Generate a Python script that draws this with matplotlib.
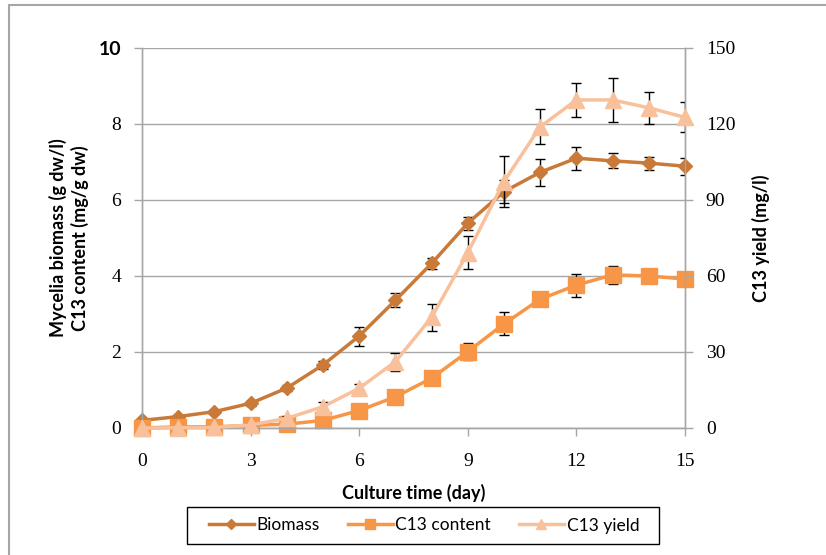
import matplotlib
matplotlib.use("Agg")
import matplotlib.pyplot as plt
from matplotlib.patches import Rectangle
from matplotlib.lines import Line2D

# culture time (day)
days = list(range(16))

# mycelia biomass (g dw/l), left axis
biomass = [0.2, 0.3, 0.43, 0.65, 1.05, 1.66, 2.42, 3.36, 4.33, 5.39, 6.22, 6.73, 7.1, 7.03, 6.97, 6.89]
biomass_err = [0.02, 0.03, 0.05, 0.06, 0.08, 0.1, 0.25, 0.18, 0.15, 0.17, 0.3, 0.35, 0.3, 0.2, 0.17, 0.22]

# C13 content (mg/g dw), left axis
content = [0.0, 0.03, 0.03, 0.07, 0.1, 0.2, 0.46, 0.82, 1.31, 2.01, 2.74, 3.39, 3.76, 4.03, 4.0, 3.92]
content_err = [0.0, 0.0, 0.0, 0.01, 0.02, 0.03, 0.04, 0.05, 0.05, 0.22, 0.3, 0.08, 0.3, 0.24, 0.05, 0.05]

# C13 yield (mg/l), right axis
yield_ = [0.0, 0.1, 0.2, 1.2, 3.8, 8.4, 15.7, 26.2, 43.7, 69.2, 97.3, 118.9, 129.5, 129.5, 126.4, 122.6]
yield_err = [0.0, 0.0, 0.0, 0.3, 1.0, 2.0, 1.5, 3.6, 5.3, 6.4, 10.2, 6.9, 6.6, 8.8, 6.3, 5.9]

x_ticks = [0, 3, 6, 9, 12, 15]
left_ticks = [0, 2, 4, 6, 8, 10]
right_ticks = [0, 30, 60, 90, 120, 150]

c_bio = '#C97A38'
c_con = '#F79646'
c_yld = '#F9C09C'
grey = '#A6A6A6'
serif = 'Liberation Serif'
sans = 'Lato'

W, H = 826, 555
fig = plt.figure(figsize=(W / 100, H / 100), dpi=100)

# chart area border (only top and left edges show in the crop)
fig.patches.append(Rectangle((9 / W, -0.1), 1.2, 1.1 - 5 / H, transform=fig.transFigure,
                             fill=False, edgecolor=grey, lw=1.5))

ax = fig.add_axes([142 / W, 1 - 428 / H, (685 - 142) / W, (428 - 48) / H])
ax2 = ax.twinx()

# biomass + content on left axis
ax.errorbar(days, biomass, yerr=biomass_err, fmt='none', ecolor='black', elinewidth=1, capsize=3.5, zorder=2)
ax.plot(days, biomass, color=c_bio, lw=2.5, marker='D', ms=7.5, clip_on=False, zorder=3)
ax.errorbar(days, content, yerr=content_err, fmt='none', ecolor='black', elinewidth=1, capsize=3.5, zorder=2)
ax.plot(days, content, color=c_con, lw=2.5, marker='s', ms=11, clip_on=False, zorder=3)

# yield on right axis
ax2.errorbar(days, yield_, yerr=yield_err, fmt='none', ecolor='black', elinewidth=1, capsize=3.5, zorder=2)
ax2.plot(days, yield_, color=c_yld, lw=2.5, marker='^', ms=12, clip_on=False, zorder=3)

ax.set_xlim(0, 15)
ax.set_ylim(0, 10)
ax2.set_ylim(0, 150)

ax.set_xticks(x_ticks)
ax.set_yticks(left_ticks)
ax2.set_yticks(right_ticks)
ax.set_xticklabels([str(t) for t in x_ticks], fontfamily=serif, fontsize=14)
ax.set_yticklabels([str(t) for t in left_ticks], fontfamily=serif, fontsize=14)
ax2.set_yticklabels([str(t) for t in right_ticks], fontfamily=serif, fontsize=14)
ylabs = ax.get_yticklabels()
ylabs[-1].set_fontfamily(sans)
ylabs[-1].set_fontweight('bold')

ax.grid(axis='y', color=grey, lw=1)
ax.set_axisbelow(True)
for a in (ax, ax2):
    for s in a.spines.values():
        s.set_color(grey)
        s.set_linewidth(1)
    a.spines['top'].set_visible(False)
ax.tick_params(axis='both', direction='out', length=6, width=1, color=grey, pad=9)
ax.tick_params(axis='x', pad=12)
ax2.tick_params(axis='y', direction='out', length=6, width=1, color=grey, pad=9)

fig.text(414 / W, 1 - 493 / H, 'Culture time (day)', ha='center', va='center',
         fontfamily=sans, fontweight='bold', fontsize=13)
fig.text(69 / W, 1 - 238 / H, 'Mycelia biomass (g dw/l)\nC13 content (mg/g dw)', ha='center', va='center',
         rotation=90, multialignment='center', linespacing=1.3,
         fontfamily=sans, fontweight='bold', fontsize=13)
fig.text(761 / W, 1 - 238 / H, 'C13 yield (mg/l)', ha='center', va='center', rotation=90,
         fontfamily=sans, fontweight='bold', fontsize=13)

# legend box drawn separately so its width matches the original
fig.patches.append(Rectangle((187 / W, 1 - 544 / H), (659 - 187) / W, 37 / H, transform=fig.transFigure,
                             fill=False, edgecolor='black', lw=1))
handles = [Line2D([], [], color=c_bio, lw=2.5, marker='D', ms=5),
           Line2D([], [], color=c_con, lw=2.5, marker='s', ms=7),
           Line2D([], [], color=c_yld, lw=2.5, marker='^', ms=7)]
fig.legend(handles, ['Biomass', 'C13 content', 'C13 yield'], loc='center',
           bbox_to_anchor=(424 / W, 1 - 525.5 / H), ncol=3, frameon=False,
           handlelength=2.6, handletextpad=0.15, columnspacing=1.6,
           prop={'family': sans, 'size': 12.5})

fig.savefig('out.png', dpi=100)
